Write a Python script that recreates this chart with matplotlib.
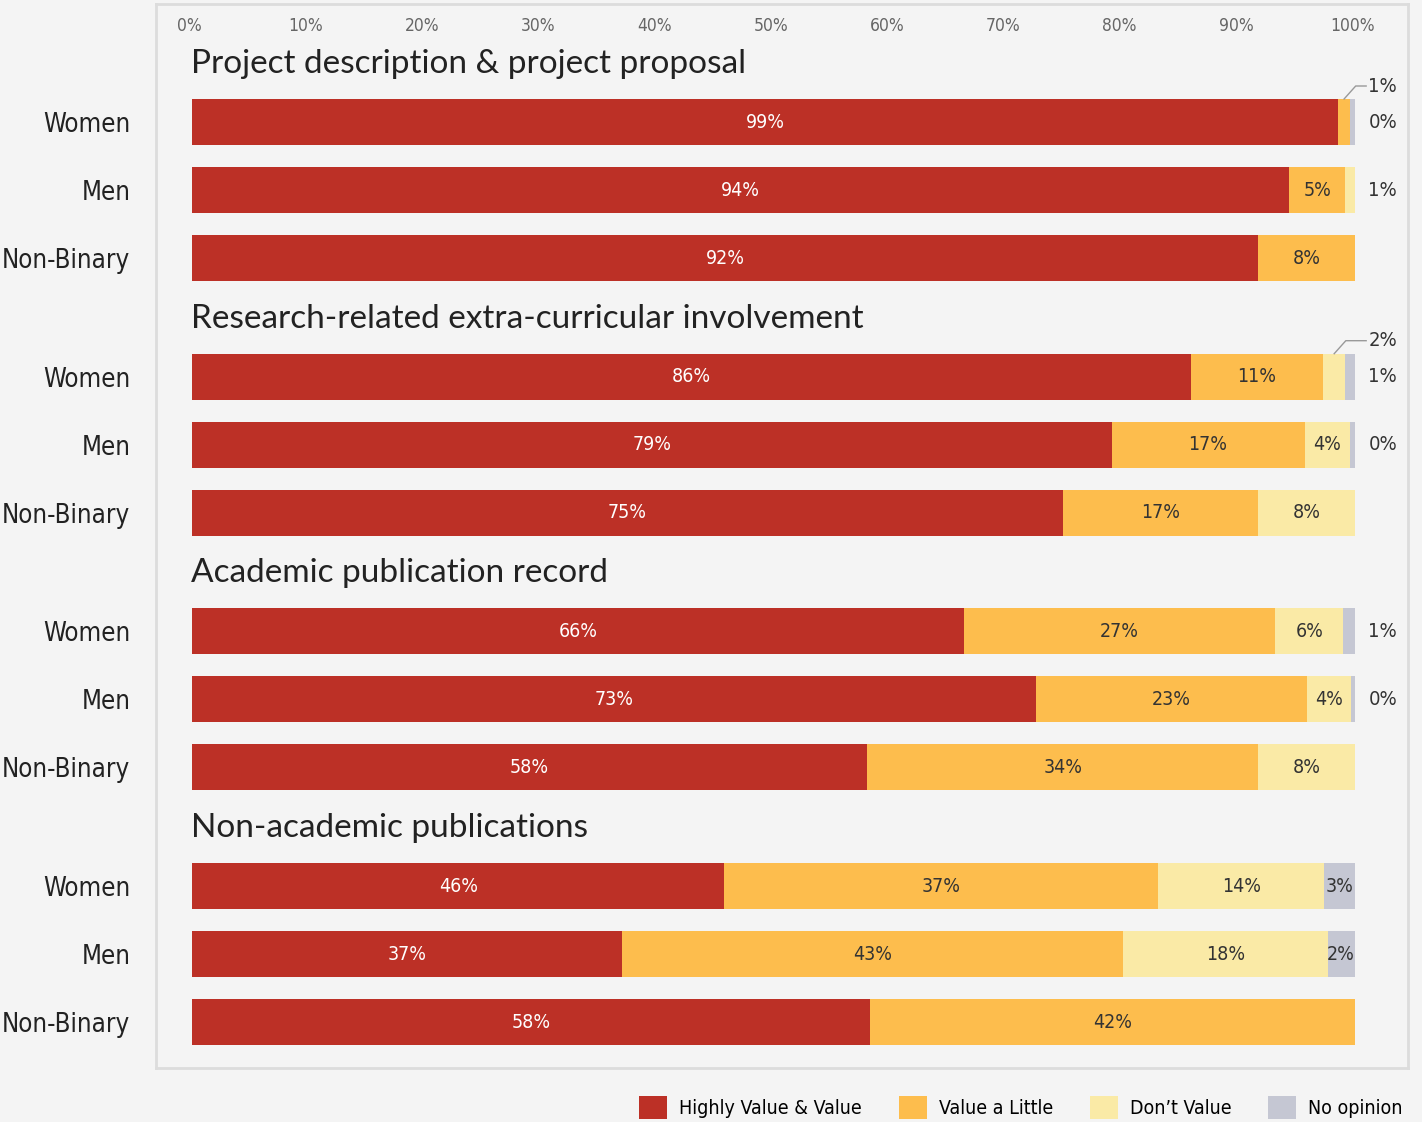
import matplotlib.pyplot as plt
from matplotlib.patches import Patch

groups = ["Project description & project proposal",
          "Research-related extra-curricular involvement",
          "Academic publication record",
          "Non-academic publications"]
genders = ["Women", "Men", "Non-Binary"]
levels = ["Highly Value & Value", "Value a Little", "Don\u2019t Value", "No opinion"]
colors = ["#bc3026", "#fdbd4d", "#faeaa6", "#c5c7d3"]

# shares per group, rows = Women / Men / Non-Binary, cols = levels
project = [[98.6, 1.0, 0.0, 0.4],
           [94.4, 4.8, 0.8, 0.0],
           [91.7, 8.3, 0.0, 0.0]]
research = [[85.9, 11.4, 1.9, 0.8],
            [79.1, 16.6, 3.9, 0.4],
            [74.9, 16.8, 8.3, 0.0]]
academic = [[66.4, 26.8, 5.8, 1.0],
            [72.6, 23.3, 3.8, 0.3],
            [58.1, 33.6, 8.3, 0.0]]
nonacademic = [[45.8, 37.3, 14.3, 2.6],
               [37.0, 43.1, 17.6, 2.3],
               [58.3, 41.7, 0.0, 0.0]]
data = [project, research, academic, nonacademic]

ticks = list(range(0, 101, 10))

cond = dict(family="DejaVu Sans", stretch="condensed")
bg = "#f4f4f4"

fig = plt.figure(figsize=(14.22, 11.22), dpi=100, facecolor=bg)
# axes in pixel-like units: x in %, y in px from top
ax = fig.add_axes([156/1422, 1 - 1068/1122, (1408-156)/1422, (1068-4)/1122])
ax.set_facecolor(bg)
ax.set_xlim(-3.1, 104.6)
ax.set_ylim(1068, 4)
for s in ax.spines.values():
    s.set_color("#dcdcdc")
    s.set_linewidth(2)

ax.set_xticks([])
for t in ticks:
    ax.text(t - 0.2, 26, f"{t}%", ha="center", va="center", fontsize=12.5,
            color="#666666", **cond)

ypos, ylabs = [], []
for g, rows in enumerate(data):
    top = 64 + g * 254.7
    ax.text(-0.1, top, groups[g], ha="left", va="center", fontsize=24,
            color="#222222", family=["Lato", "DejaVu Sans"])
    for i, vals in enumerate(rows):
        y = top + 58 + i * 68
        ypos.append(y)
        ylabs.append(genders[i])
        left = 0
        small = [k for k, v in enumerate(vals) if 0 < v < 2]
        side = small[-1] if small else None
        for k, v in enumerate(vals):
            ax.barh(y, v, left=left, height=46, color=colors[k], linewidth=0)
            lab = f"{v:.0f}%"
            if v >= 2:
                ax.text(left + v / 2, y, lab, ha="center", va="center",
                        fontsize=14, color="white" if k == 0 else "#333333",
                        **cond)
            elif k == 3 and v > 0:
                ax.text(101.2, y, lab, ha="left", va="center", fontsize=14.5,
                        color="#333333", **cond)
            elif v > 0 and k == side:
                ax.text(101.2, y, lab, ha="left", va="center", fontsize=14.5,
                        color="#333333", **cond)
            elif v > 0:
                # leader line for a thin segment next to another thin one
                xm = left + v / 2
                ax.plot([xm, xm + 1.0, 101.0], [y - 23, y - 36, y - 36],
                        color="#999999", lw=1)
                ax.text(101.2, y - 36, lab, ha="left", va="center",
                        fontsize=14.5, color="#333333", **cond)
            left += v

ax.set_yticks(ypos)
ax.set_yticklabels(ylabs, fontsize=18.5, color="#222222", **cond)
ax.tick_params(axis="y", length=0, pad=18.5)

handles = [Patch(facecolor=c, label=l) for c, l in zip(colors, levels)]
leg = fig.legend(handles=handles, loc="lower right", ncol=4, frameon=False,
                 bbox_to_anchor=(1420/1422, -0.013), handlelength=1.45,
                 handleheight=1.45, columnspacing=1.9, handletextpad=0.6,
                 prop={"family": "DejaVu Sans", "stretch": "condensed", "size": 14})

fig.savefig("out.png", dpi=100, facecolor=bg)
